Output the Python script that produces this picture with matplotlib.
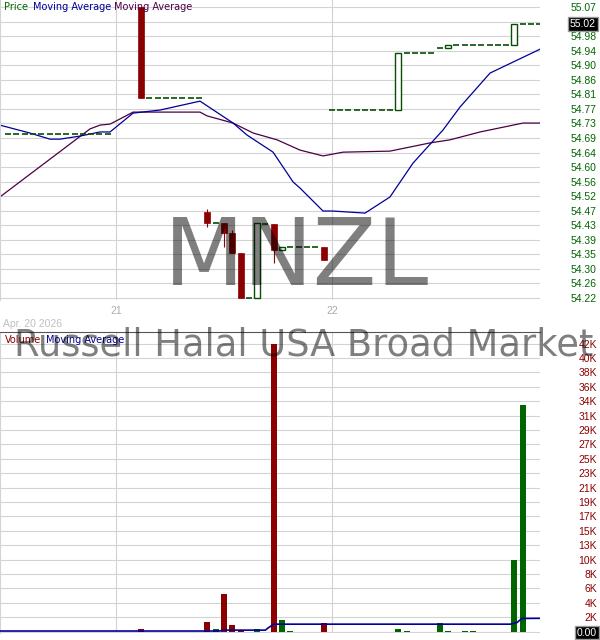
import numpy as np
import matplotlib.pyplot as plt
from matplotlib.patches import Rectangle
from matplotlib.transforms import blended_transform_factory

# x is in 15 minute slots, slot 0 = open of the 21st, slot 26 = open of the 22nd
day_slots = [0, 26]
day_labels = ["21", "22"]
date_label = "Apr. 20 2026"
ticker = "MNZL"
fund_name = "Russell Halal USA Broad Market"

# candles
candle_slot = [3, 11, 13, 14, 15, 17, 19, 20, 25, 34, 40, 48]
candle_open = [55.07, 54.471, 54.439, 54.410, 54.351, 54.220, 54.436, 54.360, 54.369, 54.769, 54.950, 54.959]
candle_high = [55.07, 54.480, 54.439, 54.418, 54.351, 54.439, 54.436, 54.369, 54.369, 54.936, 54.959, 55.020]
candle_low = [54.803, 54.426, 54.369, 54.351, 54.220, 54.220, 54.322, 54.360, 54.331, 54.769, 54.950, 54.959]
candle_close = [54.803, 54.439, 54.410, 54.351, 54.220, 54.439, 54.360, 54.369, 54.331, 54.936, 54.959, 55.020]

# runs of bars where price did not move (drawn as flat ticks)
flat_first = [-13, 4, 12, 16, 18, 21, 26, 35, 39, 41, 49]
flat_last = [-1, 10, 12, 16, 18, 24, 33, 38, 39, 47, 51]
flat_price = [54.699, 54.803, 54.439, 54.220, 54.436, 54.369, 54.769, 54.936, 54.950, 54.959, 55.020]
last_price = 55.02

# moving averages on price
ma1_x = [-14, -10.4, -7.95, -6.75, -4.34, -1.93, -0.72, 2.05, 5.3, 10.12, 14.1, 15.78,
         18.92, 21.33, 22.17, 24.94, 26.14, 30.0, 33.0, 35.78, 39.4, 41.45, 45.06, 51.1]
ma1_y = [54.725, 54.702, 54.684, 54.684, 54.693, 54.705, 54.705, 54.760, 54.769, 54.795, 54.731, 54.696,
         54.646, 54.559, 54.541, 54.474, 54.474, 54.468, 54.515, 54.614, 54.711, 54.778, 54.877, 54.947]
ma2_x = [-14, -3.13, -1.93, -0.72, 0.48, 2.05, 10.12, 10.96, 14.1, 16.51, 19.4, 22.17,
         24.94, 27.35, 33.0, 37.83, 40.24, 43.86, 49.04, 51.1]
ma2_y = [54.515, 54.714, 54.725, 54.728, 54.743, 54.763, 54.763, 54.752, 54.731, 54.702, 54.682, 54.652,
         54.635, 54.646, 54.649, 54.673, 54.682, 54.705, 54.731, 54.731]

# volume (thousands)
vol_slot = [3, 11, 12, 13, 14, 15, 17, 19, 20, 21, 25, 34, 35, 39, 40, 42, 43, 48, 49]
vol_k = [0.3, 1.35, 0.35, 5.45, 0.9, 0.15, 0.35, 42.0, 1.65, 0.1, 1.25, 0.4, 0.1, 1.3, 0.1, 0.1, 0.1, 10.4, 33.0]
vol_up = [False, False, True, False, False, False, True, False, True, True, False,
          True, True, True, True, True, True, True, True]
vma_x = [-14, 12.5, 12.8, 18.0, 18.3, 19.0, 47.5, 48.3, 48.9, 51.1]
vma_k = [0.07, 0.07, 0.2, 0.2, 0.5, 1.07, 1.07, 1.3, 1.9, 1.92]

price_ticks = list(np.linspace(54.22, 55.07, 21))
price_labels = ['54.22', '54.26', '54.30', '54.35', '54.39', '54.43', '54.47', '54.52', '54.56', '54.60',
                '54.64', '54.69', '54.73', '54.77', '54.81', '54.86', '54.90', '54.94', '54.98', '', '55.07']
vol_ticks = list(np.linspace(0, 42000, 21))
vol_labels = ['0.00', '2K', '4K', '6K', '8K', '10K', '13K', '15K', '17K', '19K', '21K',
              '23K', '25K', '27K', '29K', '31K', '34K', '36K', '38K', '40K', '42K']

RED = '#8b0000'
GREEN = '#064d06'
VGREEN = '#006400'
BLUE = '#000099'
PURPLE = '#4b0045'
GRID = '#d3d3d3'
LBL = 'Liberation Sans'

W, H = 600, 640
fig = plt.figure(figsize=(6, 6.4), dpi=100)
ax = fig.add_axes([0, 1 - 300 / H, 540 / W, 300 / H])
axv = fig.add_axes([0, 1 - 633 / H, 540 / W, (633 - 332) / H])

bw = 0.72
for a in (ax, axv):
    a.set_xlim(-13.98, 51.08)
    a.set_xticks(day_slots)
    a.grid(True, color=GRID, lw=0.8)
    a.set_axisbelow(True)
    for s in ['top', 'right', 'bottom']:
        a.spines[s].set_visible(False)
    a.spines['left'].set_color(GRID)
    a.yaxis.tick_right()
    a.tick_params(axis='y', length=0, pad=41, labelsize=7.5)
    a.tick_params(axis='x', length=0)

# ---- price panel
ax.set_ylim(54.22 - 2 * 0.85 / 291, 55.07 + 7 * 0.85 / 291)
ax.set_yticks(price_ticks)
ax.set_yticklabels(price_labels, color='#006600', family=LBL)
for t in ax.get_yticklabels():
    t.set_horizontalalignment('right')
ax.set_xticklabels(day_labels, color='#aaaaaa', family=LBL, fontsize=7.5)
ax.tick_params(axis='x', pad=4)

ax.plot(ma2_x, ma2_y, color=PURPLE, lw=0.9, zorder=2)
ax.plot(ma1_x, ma1_y, color=BLUE, lw=0.9, zorder=2)

for f, l, p in zip(flat_first, flat_last, flat_price):
    xs = np.arange(f, l + 1)
    ax.hlines(np.full(len(xs), p), xs - bw / 2, xs + bw / 2, color=GREEN, lw=1.2, zorder=3)

for s, o, h, lo, c in zip(candle_slot, candle_open, candle_high, candle_low, candle_close):
    if c >= o:
        ax.vlines(s, lo, h, color=GREEN, lw=0.8, zorder=3)
        ax.add_patch(Rectangle((s - bw / 2, o), bw, c - o, facecolor='white',
                               edgecolor=GREEN, lw=1.0, zorder=4))
    else:
        ax.vlines(s, lo, h, color=RED, lw=0.8, zorder=3)
        ax.add_patch(Rectangle((s - bw / 2, c), bw, o - c, facecolor=RED,
                               edgecolor=RED, lw=0.5, zorder=4))

tr = blended_transform_factory(ax.transAxes, ax.transData)
ax.text(1 + 56 / 540, last_price, f'{last_price:.2f}', transform=tr, ha='right', va='center',
        color='white', fontsize=7.5, family=LBL, clip_on=False,
        bbox=dict(boxstyle='square,pad=0.18', fc='black', ec='#9a9a9a', lw=1.0))

# ---- volume panel
axv.set_ylim(-1.5 * 42000 / 288, 42000 + 11.5 * 42000 / 288)
axv.set_yticks(vol_ticks)
axv.set_yticklabels(vol_labels, color=RED, family=LBL)
for t in axv.get_yticklabels():
    t.set_horizontalalignment('right')
zero = axv.get_yticklabels()[0]
zero.set_color('white')
zero.set_bbox(dict(boxstyle='square,pad=0.18', fc='black', ec='#9a9a9a', lw=1.0))
axv.set_xticklabels([])
axv.spines['top'].set_visible(True)
axv.spines['top'].set_color('#555555')

vol = np.array(vol_k) * 1000
cols = [VGREEN if u else RED for u in vol_up]
axv.bar(vol_slot, vol, width=bw, color=cols, zorder=2)
axv.plot(vma_x, np.array(vma_k) * 1000, color=BLUE, lw=1.2, zorder=3)

# ---- texts
def px(x, y):
    return x / W, 1 - y / H

fig.text(*px(4, 10), 'Price', color='#006600', fontsize=7, family='DejaVu Sans')
fig.text(*px(33, 10), 'Moving Average', color=BLUE, fontsize=7, family='DejaVu Sans')
fig.text(*px(114, 10), 'Moving Average', color=PURPLE, fontsize=7, family='DejaVu Sans')
fig.text(*px(5, 343), 'Volume', color=RED, fontsize=7, family='DejaVu Sans')
fig.text(*px(46, 343), 'Moving Average', color=BLUE, fontsize=7, family='DejaVu Sans')
fig.text(*px(3, 327), date_label, color='#c0c0c0', fontsize=7.5, family=LBL)

fig.text(*px(296, 285), ticker, fontsize=67, color='black', alpha=0.5, ha='center',
         va='baseline', family='DejaVu Sans')
fig.text(*px(14, 355), fund_name, fontsize=26.5, color='black', alpha=0.5,
         va='baseline', family='DejaVu Sans')

fig.savefig('out.png', dpi=100)
